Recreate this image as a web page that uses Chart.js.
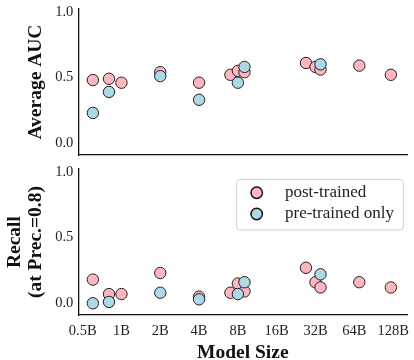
<!DOCTYPE html>
<html>
<head>
<meta charset="utf-8">
<script src="https://cdn.jsdelivr.net/npm/chart.js@4"></script>
<style>
  body { margin: 0; background: #fff; }
  canvas { position: absolute; left: 0; }
  #topChart { top: 0; }
  #bottomChart { top: 162px; }
</style>
</head>
<body>
<canvas id="topChart" width="414" height="162"></canvas>
<canvas id="bottomChart" width="414" height="198"></canvas>
<script>
// model sizes (billions of parameters)
const postSizes = [0.6, 0.8, 1, 2, 4, 7, 8, 9, 27, 32, 35, 70, 123];
const postAuc = [0.48, 0.49, 0.46, 0.54, 0.46, 0.52, 0.55, 0.54, 0.61, 0.58, 0.56, 0.59, 0.52];
const postRecall = [0.18, 0.07, 0.07, 0.23, 0.05, 0.08, 0.15, 0.09, 0.27, 0.16, 0.12, 0.16, 0.12];

const preSizes = [0.6, 0.8, 2, 4, 8, 9, 35];
const preAuc = [0.23, 0.39, 0.51, 0.33, 0.46, 0.58, 0.60];
const preRecall = [0.00, 0.01, 0.08, 0.03, 0.07, 0.16, 0.22];

const xTicks = [0.5, 1, 2, 4, 8, 16, 32, 64, 128];
const xTickLabels = ['0.5B', '1B', '2B', '4B', '8B', '16B', '32B', '64B', '128B'];
const yTicks = [0, 0.5, 1.0];

const serif = "'Liberation Serif', 'DejaVu Serif', serif";
const pink = '#FFB6C1';
const blue = '#ADD8E6';

function points(xs, ys) {
    return xs.map((x, i) => ({ x: x, y: ys[i] }));
}

function makeDatasets(postVals, preVals) {
    return [
        {
            label: 'post-trained',
            data: points(postSizes, postVals),
            backgroundColor: pink,
            borderColor: '#222',
            borderWidth: 1,
            pointRadius: 5.7,
            order: 2
        },
        {
            label: 'pre-trained only',
            data: points(preSizes, preVals),
            backgroundColor: blue,
            borderColor: '#222',
            borderWidth: 1,
            pointRadius: 5.7,
            order: 1
        }
    ];
}

// no extra room for overflowing tick labels, the sizes are fixed by hand
function noPad(scale) {
    scale.paddingTop = 0;
    scale.paddingBottom = 0;
    scale.paddingLeft = 0;
    scale.paddingRight = 0;
}

function xScale(showTicks, height) {
    return {
        type: 'logarithmic',
        min: 0.4625,
        max: 165,
        grid: { display: false, drawTicks: false },
        border: { display: true, color: '#111', width: 1.3 },
        afterBuildTicks: (scale) => { scale.ticks = xTicks.map(v => ({ value: v })); },
        afterFit: (scale) => { scale.height = height; noPad(scale); },
        ticks: {
            display: showTicks,
            autoSkip: false,
            maxRotation: 0,
            padding: 7,
            color: '#222',
            font: { family: serif, size: 14.5 },
            callback: (val, i) => xTickLabels[i]
        },
        title: {
            display: showTicks,
            text: 'Model Size',
            color: '#111',
            font: { family: serif, size: 19.5, weight: 'bold', lineHeight: 1.0 },
            padding: { top: 0, bottom: -3 }
        }
    };
}

function yScale(titleText, titlePad) {
    return {
        min: -0.09,
        max: 1.02,
        grid: { display: false, drawTicks: false },
        border: { display: true, color: '#111', width: 1.3 },
        afterBuildTicks: (scale) => { scale.ticks = yTicks.map(v => ({ value: v })); },
        afterFit: (scale) => { scale.width = 78.3; noPad(scale); },
        ticks: {
            padding: 5,
            color: '#222',
            font: { family: serif, size: 14.5 },
            callback: (val) => val.toFixed(1)
        },
        title: {
            display: true,
            text: titleText,
            color: '#111',
            font: { family: serif, size: 19.5, weight: 'bold', lineHeight: 1.1 },
            padding: { top: titlePad, bottom: 0 }
        }
    };
}

// legend with a rounded box, drawn from the datasets
const boxLegend = {
    id: 'boxLegend',
    afterDraw(chart) {
        const ctx = chart.ctx;
        const x = 236.7, y = 17.3, w = 166.6, h = 50.7;
        ctx.save();
        ctx.beginPath();
        ctx.roundRect(x, y, w, h, 3);
        ctx.fillStyle = 'rgba(255,255,255,0.85)';
        ctx.fill();
        ctx.strokeStyle = '#d0d0d0';
        ctx.lineWidth = 1;
        ctx.stroke();
        chart.data.datasets.forEach((ds, i) => {
            const cy = 30.7 + i * 21.3;
            ctx.beginPath();
            ctx.arc(256.7, cy, ds.pointRadius, 0, Math.PI * 2);
            ctx.fillStyle = ds.backgroundColor;
            ctx.fill();
            ctx.lineWidth = 1.5;
            ctx.strokeStyle = '#111';
            ctx.stroke();
            ctx.fillStyle = '#222';
            ctx.font = '17px ' + serif;
            ctx.textBaseline = 'middle';
            ctx.fillText(ds.label, 285, cy);
        });
        ctx.restore();
    }
};

function commonOptions(padTop) {
    return {
        responsive: false,
        animation: false,
        devicePixelRatio: 1,
        layout: { padding: { top: padTop, right: 2.3, left: 0, bottom: 0 } },
        plugins: { legend: { display: false }, tooltip: { enabled: false } }
    };
}

const topOpts = commonOptions(9.1);
topOpts.scales = { x: xScale(false, 7), y: yScale('Average AUC', 25.5) };

new Chart(document.getElementById('topChart').getContext('2d'), {
    type: 'scatter',
    data: { datasets: makeDatasets(postAuc, preAuc) },
    options: topOpts
});

const bottomOpts = commonOptions(7.1);
bottomOpts.scales = { x: xScale(true, 44.9), y: yScale(['Recall', '(at Prec.=0.8)'], 4) };

new Chart(document.getElementById('bottomChart').getContext('2d'), {
    type: 'scatter',
    data: { datasets: makeDatasets(postRecall, preRecall) },
    options: bottomOpts,
    plugins: [boxLegend]
});
</script>
</body>
</html>
